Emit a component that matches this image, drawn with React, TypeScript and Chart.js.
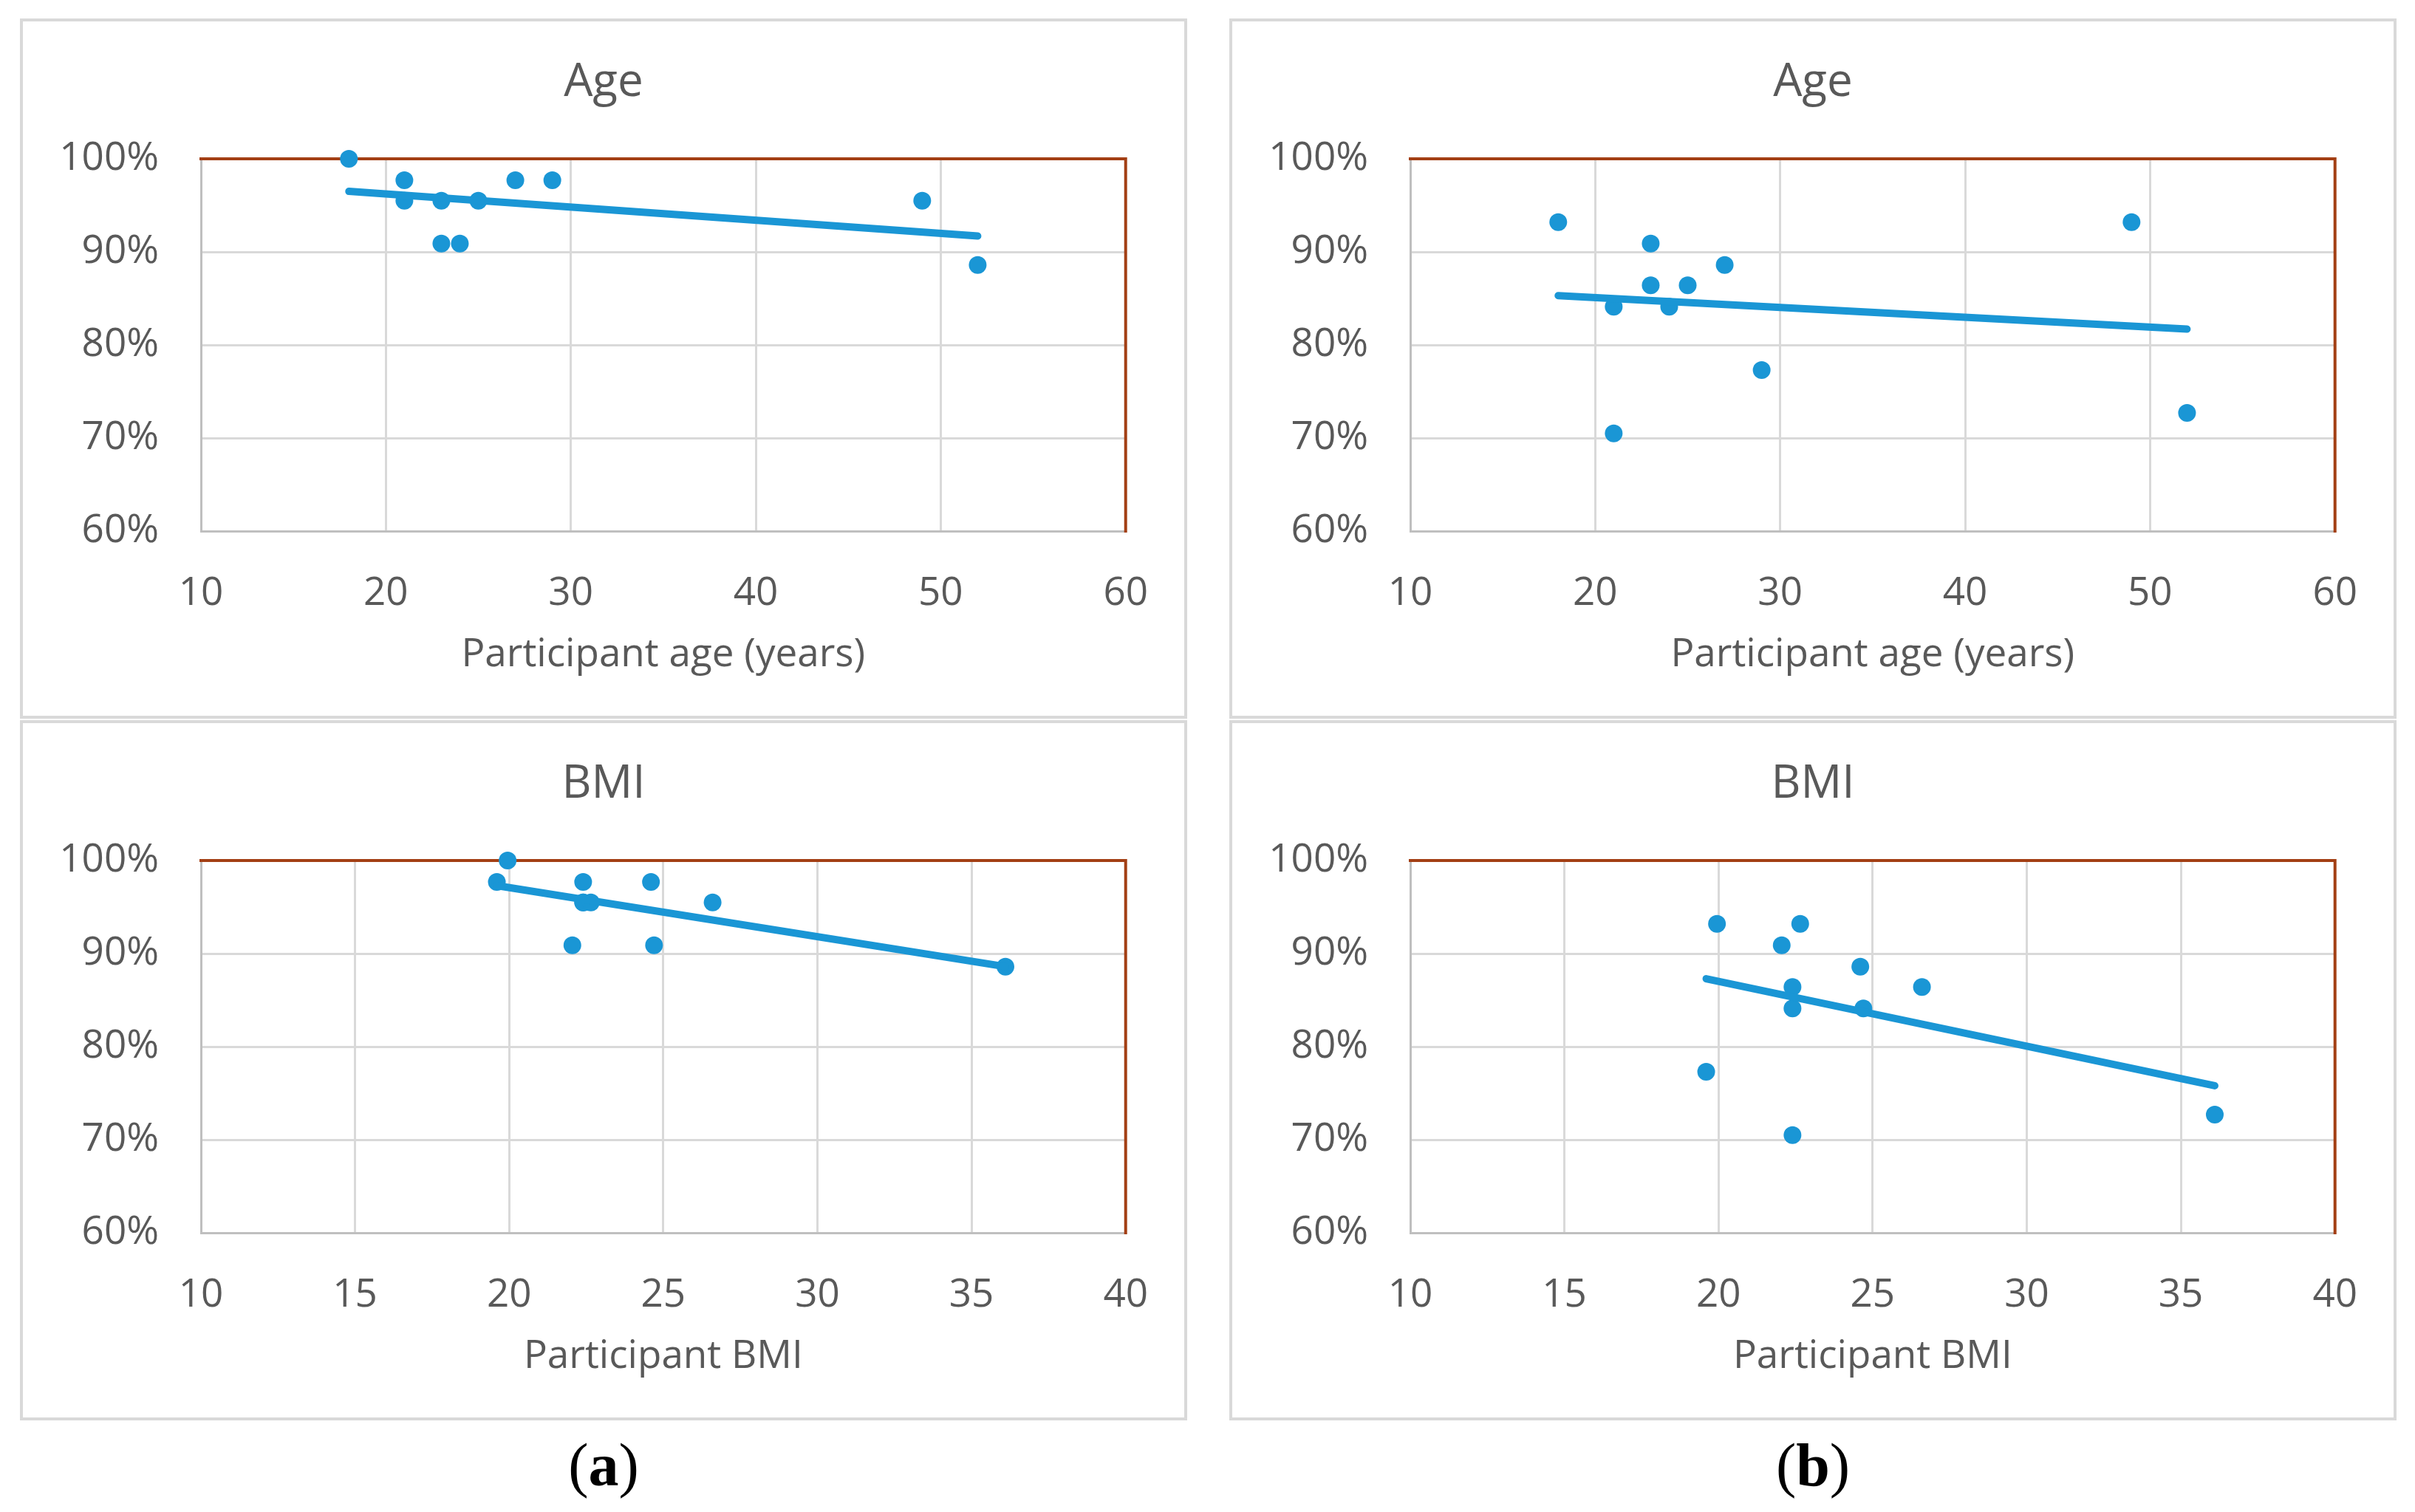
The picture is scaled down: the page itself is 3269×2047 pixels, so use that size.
import React, { useEffect, useRef } from 'react';
import { Chart, registerables } from 'chart.js';

Chart.register(...registerables);

// ---------- data ----------
// (a) Age
const ageA_x = [18, 21, 21, 23, 23, 24, 25, 27, 29, 49, 52];
const ageA_y = [100, 97.7, 95.5, 95.5, 90.9, 90.9, 95.5, 97.7, 97.7, 95.5, 88.6];
const ageA_trendX = [18, 52];
const ageA_trendY = [96.5, 91.7];

// (b) Age
const ageB_x = [18, 23, 21, 21, 23, 24, 25, 27, 29, 49, 52];
const ageB_y = [93.2, 90.9, 84.1, 70.5, 86.4, 84.1, 86.4, 88.6, 77.3, 93.2, 72.7];
const ageB_trendX = [18, 52];
const ageB_trendY = [85.3, 81.7];

// (a) BMI
const bmiA_x = [19.95, 19.6, 22.4, 24.6, 22.4, 22.4, 22.65, 26.6, 22.05, 24.7, 36.1];
const bmiA_y = [100, 97.7, 97.7, 97.7, 95.5, 95.5, 95.5, 95.5, 90.9, 90.9, 88.6];
const bmiA_trendX = [19.6, 36.1];
const bmiA_trendY = [97.3, 88.6];

// (b) BMI
const bmiB_x = [19.95, 22.65, 22.05, 24.6, 22.4, 26.6, 22.4, 24.7, 19.6, 22.4, 36.1];
const bmiB_y = [93.2, 93.2, 90.9, 88.6, 86.4, 86.4, 84.1, 84.1, 77.3, 70.5, 72.7];
const bmiB_trendX = [19.6, 36.1];
const bmiB_trendY = [87.3, 75.8];

const yTicks = [60, 70, 80, 90, 100];
const ageXRange = [10, 60, 10];
const bmiXRange = [10, 40, 5];

// ---------- styling / layout ----------
const BLUE = '#1a96d5';
const TEXT = '#595959';
const GRID = '#d9d9d9';
const AXIS = '#bfbfbf';
const FRAME = '#a33f14';
const FONT = '"Open Sans", "Noto Sans", sans-serif';

const PW = 1580;
const PH = 948;

type PanelDef = {
  left: number;
  top: number;
  title: string;
  xTitle: string;
  xr: number[];
  xs: number[];
  ys: number[];
  tx: number[];
  ty: number[];
};

const panels: PanelDef[] = [
  { left: 27, top: 25, title: 'Age', xTitle: 'Participant age (years)', xr: ageXRange, xs: ageA_x, ys: ageA_y, tx: ageA_trendX, ty: ageA_trendY },
  { left: 1664, top: 25, title: 'Age', xTitle: 'Participant age (years)', xr: ageXRange, xs: ageB_x, ys: ageB_y, tx: ageB_trendX, ty: ageB_trendY },
  { left: 27, top: 975, title: 'BMI', xTitle: 'Participant BMI', xr: bmiXRange, xs: bmiA_x, ys: bmiA_y, tx: bmiA_trendX, ty: bmiA_trendY },
  { left: 1664, top: 975, title: 'BMI', xTitle: 'Participant BMI', xr: bmiXRange, xs: bmiB_x, ys: bmiB_y, tx: bmiB_trendX, ty: bmiB_trendY },
];

const framePlugin = {
  id: 'excelFrame',
  beforeDraw(chart: any) {
    const { ctx, width, height } = chart;
    ctx.save();
    ctx.fillStyle = '#ffffff';
    ctx.fillRect(0, 0, width, height);
    ctx.strokeStyle = GRID;
    ctx.lineWidth = 4;
    ctx.strokeRect(2, 2, width - 4, height - 4);
    ctx.restore();
  },
  beforeDatasetsDraw(chart: any) {
    const { ctx, chartArea } = chart;
    ctx.save();
    ctx.strokeStyle = FRAME;
    ctx.lineWidth = 4;
    ctx.lineCap = 'square';
    ctx.beginPath();
    ctx.moveTo(chartArea.left, chartArea.top);
    ctx.lineTo(chartArea.right, chartArea.top);
    ctx.lineTo(chartArea.right, chartArea.bottom);
    ctx.stroke();
    ctx.restore();
  },
};

function Panel({ p }: { p: PanelDef }) {
  const ref = useRef<HTMLCanvasElement | null>(null);
  useEffect(() => {
    if (!ref.current) return;
    const chart = new Chart(ref.current, {
      type: 'scatter',
      data: {
        datasets: [
          {
            data: p.xs.map((x, i) => ({ x, y: p.ys[i] })),
            backgroundColor: BLUE,
            pointBackgroundColor: BLUE,
            pointBorderWidth: 0,
            pointRadius: 12,
            pointHoverRadius: 12,
            clip: false,
            order: 2,
          } as any,
          {
            data: p.tx.map((x, i) => ({ x, y: p.ty[i] })),
            showLine: true,
            borderColor: BLUE,
            borderWidth: 10,
            borderCapStyle: 'round',
            pointRadius: 0,
            pointHoverRadius: 0,
            clip: false,
            order: 1,
          } as any,
        ],
      },
      options: {
        animation: false,
        responsive: false,
        devicePixelRatio: 1,
        events: [],
        layout: { padding: 0 },
        plugins: {
          legend: { display: false },
          tooltip: { enabled: false },
          title: {
            display: true,
            text: p.title,
            color: TEXT,
            font: { family: FONT, size: 62, weight: 'normal', lineHeight: 1.2 },
            padding: { top: 50, bottom: 65.6 },
          },
        },
        scales: {
          x: {
            type: 'linear',
            min: p.xr[0],
            max: p.xr[1],
            afterFit: (s: any) => {
              s.height = 254;
            },
            ticks: {
              stepSize: p.xr[2],
              padding: 53,
              color: TEXT,
              font: { family: FONT, size: 53, lineHeight: 1.2 },
            },
            grid: { color: GRID, lineWidth: 3, drawTicks: false },
            border: { color: AXIS, width: 3 },
            title: {
              display: true,
              text: p.xTitle,
              color: TEXT,
              font: { family: FONT, size: 53, lineHeight: 1.2 },
              padding: { top: 0, bottom: 54 },
            },
          },
          y: {
            type: 'linear',
            min: yTicks[0],
            max: yTicks[yTicks.length - 1],
            afterFit: (s: any) => {
              s.width = 245;
            },
            afterBuildTicks: (s: any) => {
              s.ticks = yTicks.map((v) => ({ value: v }));
            },
            ticks: {
              padding: 57,
              color: TEXT,
              font: { family: FONT, size: 53, lineHeight: 1.2 },
              callback: (v: any) => `${v}%`,
            },
            grid: { color: GRID, lineWidth: 3, drawTicks: false },
            border: { color: AXIS, width: 3 },
          },
          yRight: {
            type: 'linear',
            position: 'right',
            display: true,
            min: yTicks[0],
            max: yTicks[yTicks.length - 1],
            afterFit: (s: any) => {
              s.width = 81;
            },
            ticks: { display: false },
            grid: { display: false, drawTicks: false },
            border: { display: false },
          },
        },
      } as any,
      plugins: [framePlugin],
    });
    return () => chart.destroy();
  }, [p]);
  return (
    <canvas
      ref={ref}
      width={PW}
      height={PH}
      style={{ position: 'absolute', left: p.left, top: p.top, width: PW, height: PH }}
    />
  );
}

const subLabels = [
  { text: 'a', cx: 817 },
  { text: 'b', cx: 2454 },
];

export default function App() {
  useEffect(() => {
    document.body.style.margin = '0';
  }, []);
  return (
    <div style={{ position: 'relative', width: 3269, height: 2047, background: '#ffffff', overflow: 'hidden' }}>
      {panels.map((p, i) => (
        <Panel key={i} p={p} />
      ))}
      {subLabels.map((l) => (
        <div
          key={l.text}
          style={{
            position: 'absolute',
            left: l.cx - 150,
            width: 300,
            top: 1934,
            height: 100,
            lineHeight: '100px',
            textAlign: 'center',
            fontFamily: '"Liberation Serif", "Times New Roman", serif',
            fontSize: 82,
            color: '#000',
          }}
        >
          (<b>{l.text}</b>)
        </div>
      ))}
    </div>
  );
}
